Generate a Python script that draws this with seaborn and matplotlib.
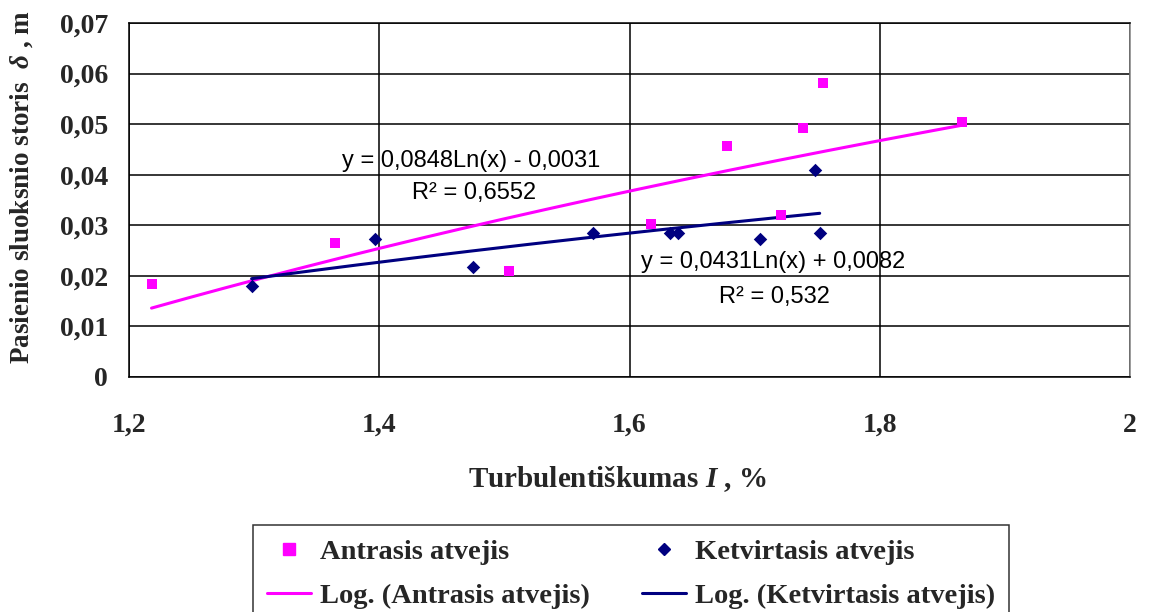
import numpy as np
import pandas as pd
import matplotlib
matplotlib.use("Agg")
import matplotlib.pyplot as plt
import seaborn as sns
from matplotlib.lines import Line2D

# ---- data ----
antr_x = [1.218, 1.365, 1.504, 1.617, 1.678, 1.721, 1.739, 1.755, 1.866]
antr_y = [0.0184, 0.0265, 0.0210, 0.0302, 0.0457, 0.0321, 0.0493, 0.0581, 0.0505]
ketv_x = [1.298, 1.397, 1.475, 1.571, 1.632, 1.639, 1.704, 1.748, 1.752]
ketv_y = [0.0180, 0.0273, 0.0217, 0.0285, 0.0284, 0.0284, 0.0273, 0.0409, 0.0284]

# logarithmic trendline coefficients shown on the chart: y = a*ln(x) + b
antr_coef = [0.0848, -0.0031]
ketv_coef = [0.0431, 0.0082]

series_names = ["Antrasis atvejis", "Ketvirtasis atvejis"]
trend_names = ["Log. (Antrasis atvejis)", "Log. (Ketvirtasis atvejis)"]
antr_eq = ["y = 0,0848Ln(x) - 0,0031", "R\u00b2 = 0,6552"]
ketv_eq = ["y = 0,0431Ln(x) + 0,0082", "R\u00b2 = 0,532"]

x_ticks = [1.2, 1.4, 1.6, 1.8, 2.0]
x_tick_labels = ["1,2", "1,4", "1,6", "1,8", "2"]
y_ticks = [0, 0.01, 0.02, 0.03, 0.04, 0.05, 0.06, 0.07]
y_tick_labels = ["0", "0,01", "0,02", "0,03", "0,04", "0,05", "0,06", "0,07"]

x_label = "Turbulenti\u0161kumas $I$ , %"
y_label = "Pasienio sluoksnio storis  $\\delta$ , m"

PINK = "#FF00FF"
NAVY = "#000080"

sns.set_style("white")
plt.rcParams["font.family"] = ["Liberation Serif", "DejaVu Serif"]
plt.rcParams["mathtext.fontset"] = "custom"
plt.rcParams["mathtext.it"] = "Liberation Serif:italic:bold"
plt.rcParams["mathtext.rm"] = "Liberation Serif:bold"
plt.rcParams["mathtext.bf"] = "Liberation Serif:bold"

fig = plt.figure(figsize=(11.52, 6.12), dpi=100)
ax = fig.add_axes([129 / 1152, 1 - 377 / 612, 1001 / 1152, 354 / 612])

# trendlines
def trend_frame(xs, coef):
    xg = np.linspace(min(xs), max(xs), 200)
    return pd.DataFrame({"x": xg, "y": coef[0] * np.log(xg) + coef[1]})

ta = trend_frame(antr_x, antr_coef)
tk = trend_frame(ketv_x, ketv_coef)
sns.lineplot(data=ta, x="x", y="y", color=PINK, linewidth=2.2, ax=ax, zorder=3)
sns.lineplot(data=tk, x="x", y="y", color=NAVY, linewidth=2.2, ax=ax, zorder=3)

# points
sns.scatterplot(x=antr_x, y=antr_y, marker="s", s=62, color=PINK, linewidth=0, ax=ax, zorder=4)
sns.scatterplot(x=ketv_x, y=ketv_y, marker="D", s=47, color=NAVY, linewidth=0, ax=ax, zorder=4)

ax.set_xlim(1.2, 2.0)
ax.set_ylim(0, 0.07)
ax.set_xticks(x_ticks)
ax.set_xticklabels(x_tick_labels)
ax.set_yticks(y_ticks)
ax.set_yticklabels(y_tick_labels)
ax.set_xlabel("")
ax.set_ylabel("")

ax.grid(True, color="black", linewidth=1.1)
ax.set_axisbelow(True)
for s in ax.spines.values():
    s.set_color("black")
    s.set_linewidth(1.1)
ax.spines["right"].set_color("#808080")

ax.tick_params(axis="y", direction="out", length=4, width=1, color="black",
               labelsize=20, pad=11)
ax.tick_params(axis="x", direction="out", length=7, width=1, color="black",
               labelsize=20, pad=19)
for lab in ax.get_xticklabels() + ax.get_yticklabels():
    lab.set_fontweight("bold")

# equations
eq_font = dict(family=["Liberation Sans", "DejaVu Sans"], fontsize=17, color="black",
               ha="center", va="center")
ax.text(1.4734, 0.04263, antr_eq[0], **eq_font)
ax.text(1.476, 0.0364, antr_eq[1], **eq_font)
ax.text(1.7148, 0.02283, ketv_eq[0], **eq_font)
ax.text(1.7156, 0.01584, ketv_eq[1], **eq_font)

# axis titles
fig.text(617 / 1152, 1 - 479 / 612, x_label, ha="center", va="center",
         fontsize=21, fontweight="bold")
fig.text(22 / 1152, 1 - 187 / 612, y_label, ha="center", va="center",
         rotation=90, fontsize=19.5, fontweight="bold")

# legend
handles = [
    Line2D([], [], linestyle="none", marker="s", markersize=8, color=PINK),
    Line2D([], [], color=PINK, linewidth=2.2),
    Line2D([], [], linestyle="none", marker="D", markersize=6.5, color=NAVY),
    Line2D([], [], color=NAVY, linewidth=2.2),
]
labels = [series_names[0], trend_names[0], series_names[1], trend_names[1]]
leg = fig.legend(handles, labels, ncol=2, loc="upper left",
                 bbox_to_anchor=(253 / 1152, 1 - 525 / 612), borderaxespad=0,
                 frameon=True, fancybox=False, edgecolor="black",
                 prop=dict(family="Liberation Serif", weight="bold", size=20.5),
                 handlelength=1.55, handletextpad=0.32, columnspacing=1.8,
                 labelspacing=0.62, borderpad=0.5)
leg.get_frame().set_linewidth(1.1)

fig.savefig("out.png", dpi=100)
